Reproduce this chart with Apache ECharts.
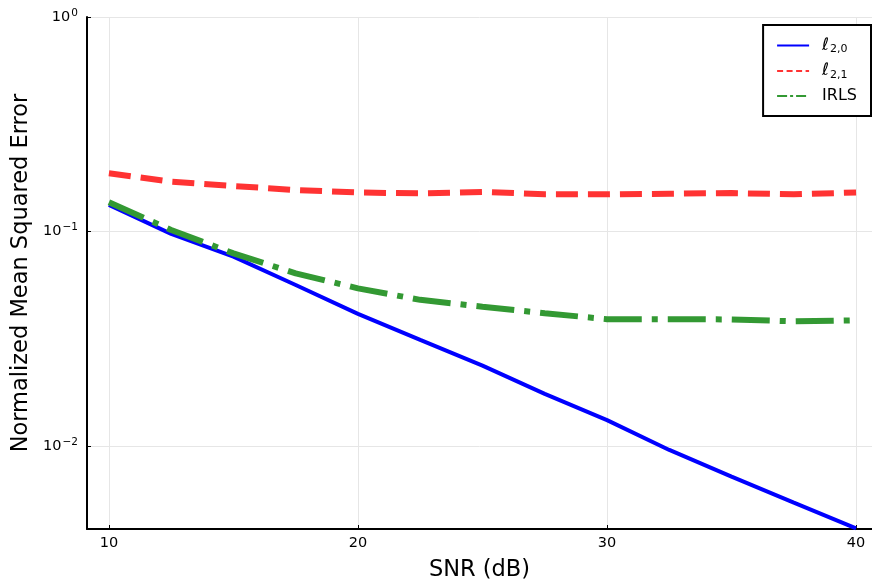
<!DOCTYPE html>
<html>
<head>
<meta charset="utf-8">
<script src="https://cdn.jsdelivr.net/npm/echarts@6/dist/echarts.min.js"></script>
<style>
  html, body { margin: 0; padding: 0; background: #fff; }
  #chart { width: 872px; height: 587px; }
</style>
</head>
<body>
<div id="chart"></div>
<script>
// SNR sweep (dB)
var snr = [10, 12.5, 15, 17.5, 20, 22.5, 25, 27.5, 30, 32.5, 35, 37.5, 40];

// normalized MSE per method
var l20 = [0.133, 0.0975, 0.0763, 0.0563, 0.0413, 0.0312, 0.0237, 0.0175, 0.0132, 0.00958, 0.00719, 0.00544, 0.00413];
var l21 = [0.187, 0.1706, 0.163, 0.156, 0.152, 0.1505, 0.153, 0.149, 0.149, 0.150, 0.151, 0.149, 0.152];
var irls = [0.137, 0.1016, 0.079, 0.0638, 0.0543, 0.048, 0.0446, 0.0416, 0.0390, 0.0390, 0.0389, 0.0381, 0.0385];

var xTicks = [10, 20, 30, 40];

function pairs(ys) {
    return snr.map(function (x, i) { return [x, ys[i]]; });
}

var chart = echarts.init(document.getElementById('chart'));

var fontFamily = 'DejaVu Sans';

chart.setOption({
    animation: false,
    textStyle: { fontFamily: fontFamily },
    grid: { left: 87, right: 0, top: 17, bottom: 58 },
    legend: {
        orient: 'vertical',
        right: 1,
        top: 25,
        padding: [12, 14, 12, 13],
        itemWidth: 32,
        itemHeight: 16,
        itemGap: 7.5,
        backgroundColor: '#fff',
        borderColor: '#000',
        borderWidth: 2,
        itemStyle: { opacity: 0 },
        lineStyle: { width: 2 },
        textStyle: {
            fontFamily: fontFamily,
            fontSize: 16,
            color: '#000',
            padding: [0, 0, 0, 8],
            rich: {
                l: { fontSize: 17, fontStyle: 'italic', color: '#000' },
                s: { fontSize: 11, color: '#000', padding: [8, 0, 0, 1] }
            }
        },
        formatter: function (name) {
            if (name === 'l20') return '{l|ℓ}{s|2,0}';
            if (name === 'l21') return '{l|ℓ}{s|2,1}';
            return name;
        },
        data: [
            { name: 'l20', lineStyle: { width: 2 } },
            { name: 'l21', lineStyle: { width: 2, type: [6, 3.5] } },
            { name: 'IRLS', lineStyle: { width: 2, type: [10, 3, 3, 3] } }
        ]
    },
    xAxis: {
        type: 'value',
        min: 9.12,
        max: 40.64,
        name: 'SNR (dB)',
        nameLocation: 'middle',
        nameGap: 30,
        nameTextStyle: { fontSize: 22.5, color: '#000', fontFamily: fontFamily },
        axisLine: { show: true, onZero: false, lineStyle: { color: '#000', width: 2 } },
        axisTick: { show: true, inside: true, length: 4, customValues: xTicks, lineStyle: { color: '#000' } },
        axisLabel: { customValues: xTicks, fontSize: 14.5, color: '#000', margin: 7 },
        splitLine: { show: true, lineStyle: { color: '#e6e6e6', width: 1 } }
    },
    yAxis: {
        type: 'log',
        logBase: 10,
        min: 0.0041,
        max: 1,
        name: 'Normalized Mean Squared Error',
        nameLocation: 'middle',
        nameGap: 53,
        nameRotate: 90,
        nameTextStyle: { fontSize: 22.5, color: '#000', fontFamily: fontFamily },
        axisLine: { show: true, onZero: false, lineStyle: { color: '#000', width: 2 } },
        axisTick: { show: true, inside: true, length: 4, lineStyle: { color: '#000' } },
        axisLabel: {
            fontSize: 14.5,
            color: '#000',
            margin: 9,
            showMinLabel: false,
            rich: {
                b: { fontSize: 14.5, color: '#000' },
                e: { fontSize: 10.5, color: '#000', padding: [0, 0, 8, 1] }
            },
            formatter: function (v) {
                var lg = Math.log10(v);
                var e = Math.round(lg);
                if (Math.abs(lg - e) > 1e-6) return '';
                return '{b|10}{e|' + (e < 0 ? '−' + (-e) : e) + '}';
            }
        },
        splitLine: { show: true, lineStyle: { color: '#e6e6e6', width: 1 } }
    },
    series: [
        {
            name: 'l20',
            type: 'line',
            data: pairs(l20),
            symbol: 'none',
            color: '#0000ff',
            lineStyle: { color: '#0000ff', width: 4 }
        },
        {
            name: 'l21',
            type: 'line',
            data: pairs(l21),
            symbol: 'none',
            color: '#ff3333',
            lineStyle: { color: '#ff3333', width: 6, type: [22, 10], cap: 'butt' }
        },
        {
            name: 'IRLS',
            type: 'line',
            data: pairs(irls),
            symbol: 'none',
            color: '#339933',
            lineStyle: { color: '#339933', width: 6, type: [38, 10, 6, 10], cap: 'butt' }
        }
    ]
});
</script>
</body>
</html>
